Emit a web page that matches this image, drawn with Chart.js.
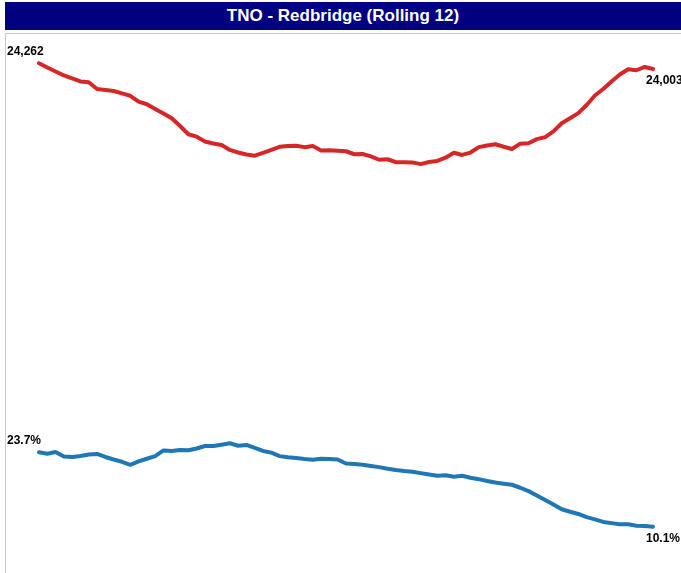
<!DOCTYPE html>
<html>

<head>
    <title>TNO - Redbridge (Rolling 12)</title>
    <script src="https://cdn.jsdelivr.net/npm/chart.js"></script>
    <style>
        body {
            font-family: 'Liberation Sans', Arial, sans-serif;
            margin: 0;
            padding: 0;
            background: white;
            width: 681px;
            height: 573px;
            overflow: hidden;
            position: relative;
        }

        .title-bar {
            position: absolute;
            left: 5px;
            top: 2px;
            width: 676px;
            height: 28px;
            background: #000080;
            color: white;
            font-weight: bold;
            font-size: 17px;
            line-height: 28px;
            text-align: center;
        }

        .frame {
            position: absolute;
            left: 5px;
            top: 33px;
            width: 676px;
            height: 540px;
            border-top: 1px solid #c8c8c8;
            border-left: 1px solid #c8c8c8;
        }

        #trendChart {
            display: block;
        }
    </style>
</head>

<body>
    <div class="title-bar">TNO - Redbridge (Rolling 12)</div>
    <div class="frame">
        <canvas id="trendChart" width="675" height="539"></canvas>
    </div>

    <script>
        // 75 monthly points, rolling 12
        const months = Array.from({ length: 75 }, (_, i) => 'M' + (i + 1));

        const tnoValues = [
            24262, 24071, 23890, 23708, 23572, 23436, 23399, 23095, 23050, 23004,
            22891, 22786, 22519, 22401, 22187, 21983, 21765, 21415, 21039, 20930,
            20712, 20621, 20553, 20326, 20212, 20122, 20067, 20190, 20326, 20471,
            20507, 20521, 20453, 20507, 20303, 20312, 20294, 20267, 20131, 20144,
            20031, 19881, 19904, 19772, 19767, 19762, 19681, 19781, 19826, 19976,
            20199, 20099, 20208, 20453, 20530, 20585, 20471, 20371, 20612, 20630,
            20816, 20907, 21166, 21538, 21765, 21997, 22369, 22796, 23095, 23436,
            23754, 23990, 23944, 24094, 24003
        ];

        const rateValues = [
            23.70, 23.44, 23.75, 22.93, 22.84, 23.02, 23.30, 23.39, 22.84, 22.38,
            21.96, 21.41, 22.02, 22.51, 22.99, 24.03, 23.94, 24.12, 24.07, 24.39,
            24.85, 24.85, 25.09, 25.35, 24.89, 25.03, 24.49, 23.94, 23.63, 22.99,
            22.79, 22.66, 22.48, 22.35, 22.53, 22.48, 22.38, 21.65, 21.56, 21.43,
            21.20, 20.98, 20.68, 20.46, 20.28, 20.14, 19.88, 19.64, 19.40, 19.51,
            19.22, 19.40, 19.04, 18.78, 18.45, 18.18, 17.96, 17.76, 17.21, 16.59,
            15.80, 14.98, 14.16, 13.28, 12.82, 12.42, 11.84, 11.42, 10.96, 10.74,
            10.54, 10.54, 10.28, 10.23, 10.10
        ];

        // first / last value labels next to each line
        const endLabels = {
            id: 'endLabels',
            afterDatasetsDraw(chart) {
                const ctx = chart.ctx;
                ctx.save();
                ctx.font = 'bold 12px "Liberation Sans", Arial, sans-serif';
                ctx.fillStyle = '#000000';
                ctx.textAlign = 'left';
                ctx.textBaseline = 'middle';
                chart.data.datasets.forEach((ds, i) => {
                    const pts = chart.getDatasetMeta(i).data;
                    const first = pts[0];
                    const last = pts[pts.length - 1];
                    ctx.fillText(ds.fmt(ds.data[0]), first.x - 32, first.y - 12);
                    ctx.fillText(ds.fmt(ds.data[ds.data.length - 1]), last.x - 7, last.y + 12);
                });
                ctx.restore();
            }
        };

        const chartCtx = document.getElementById('trendChart').getContext('2d');

        new Chart(chartCtx, {
            type: 'line',
            data: {
                labels: months,
                datasets: [{
                    label: 'TNO',
                    data: tnoValues,
                    yAxisID: 'yCount',
                    borderColor: '#d62728',
                    borderWidth: 4,
                    fmt: v => v.toLocaleString('en-GB')
                }, {
                    label: 'Rate',
                    data: rateValues,
                    yAxisID: 'yRate',
                    borderColor: '#1f77b4',
                    borderWidth: 4,
                    fmt: v => v.toFixed(1) + '%'
                }]
            },
            options: {
                responsive: false,
                animation: false,
                devicePixelRatio: 1,
                layout: {
                    padding: { left: 33, right: 28, top: 13, bottom: 13 }
                },
                elements: {
                    point: { radius: 0 },
                    line: {
                        tension: 0,
                        fill: false,
                        borderCapStyle: 'round',
                        borderJoinStyle: 'round'
                    }
                },
                plugins: {
                    legend: { display: false },
                    tooltip: { enabled: false },
                    title: { display: false }
                },
                scales: {
                    x: { display: false, offset: false },
                    yCount: { display: false, min: 1710, max: 25000 },
                    yRate: { display: false, min: 4.0, max: 97.8 }
                }
            },
            plugins: [endLabels]
        });
    </script>
</body>

</html>
